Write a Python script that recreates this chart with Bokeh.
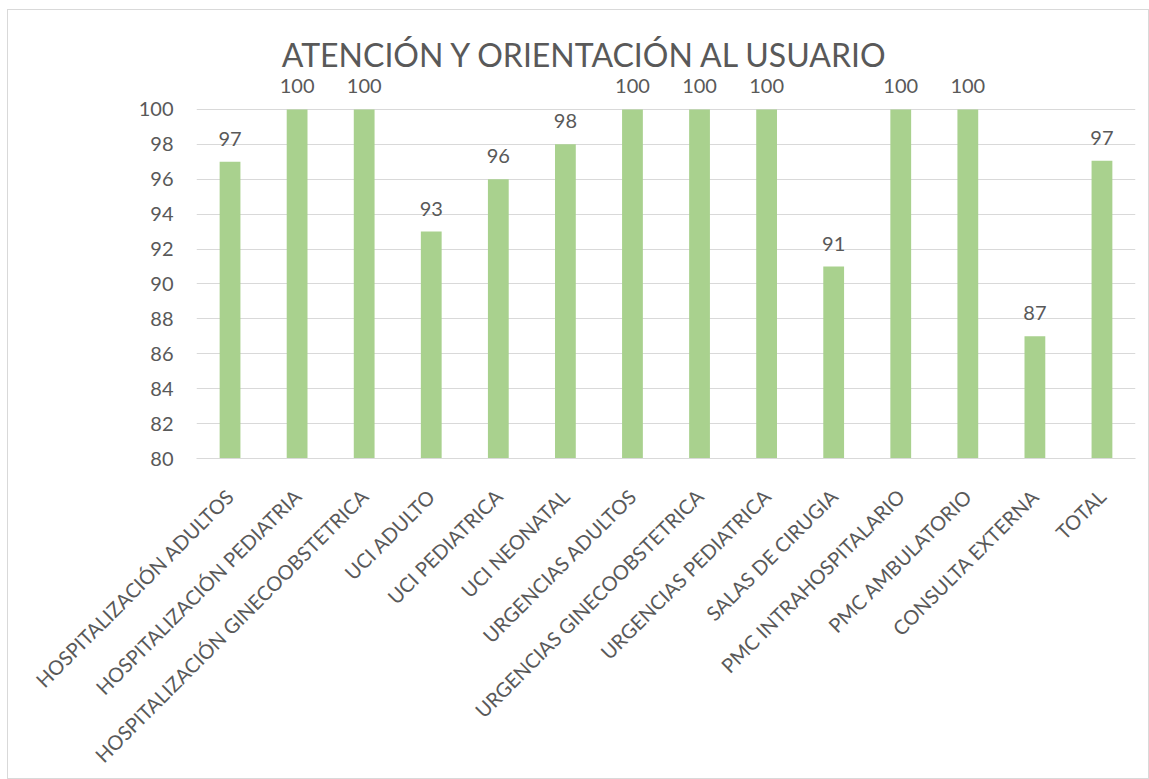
import math
from bokeh.plotting import figure
from bokeh.models import ColumnDataSource, FactorRange, Range1d, FixedTicker
from bokeh.core.properties import value
from bokeh.embed import file_html
from bokeh.resources import INLINE

categories = [
    "HOSPITALIZACIÓN ADULTOS",
    "HOSPITALIZACIÓN PEDIATRIA",
    "HOSPITALIZACIÓN GINECOOBSTETRICA",
    "UCI ADULTO",
    "UCI PEDIATRICA",
    "UCI NEONATAL",
    "URGENCIAS ADULTOS",
    "URGENCIAS GINECOOBSTETRICA",
    "URGENCIAS PEDIATRICA",
    "SALAS DE CIRUGIA",
    "PMC INTRAHOSPITALARIO",
    "PMC AMBULATORIO",
    "CONSULTA EXTERNA",
    "TOTAL",
]
values = [97, 100, 100, 93, 96, 98, 100, 100, 100, 91, 100, 100, 87, 97.06]
labels = ["%.0f" % v for v in values]
y_ticks = list(range(80, 101, 2))
title_text = "ATENCIÓN Y ORIENTACIÓN AL USUARIO"

FONT = "Lato"
TXT = "#595959"
Y_TOP = 105.67  # frame extends above 100 so the title and data labels sit inside it

src = ColumnDataSource(dict(cat=categories, val=values, lab=labels))

p = figure(
    x_range=FactorRange(*categories),
    y_range=Range1d(80, Y_TOP),
    width=1140, height=768,
    output_backend="svg", toolbar_location=None,
    min_border_left=188, min_border_right=13,
    min_border_top=0, min_border_bottom=320,
)
p.margin = (10, 0, 0, 8)
p.styles = {"outline": "1px solid #d9d9d9"}
p.outline_line_color = None
p.background_fill_color = "white"
p.border_fill_color = "white"

p.vbar(x="cat", top="val", bottom=80, width=0.31, source=src,
       fill_color="#A9D18E", line_color=None)

p.text(x="cat", y="val", text="lab", source=src,
       text_font=value(FONT), text_font_size="20px", text_color=TXT,
       text_align="center", text_baseline="alphabetic", y_offset=-23)

# chart title, centred on the whole chart (midpoint between 6th and 7th factor, nudged left)
p.text(x=[6.0], y=[Y_TOP], text=[title_text],
       text_font=value(FONT), text_font_size="32px", text_color=TXT,
       text_align="center", text_baseline="middle", x_offset=-13, y_offset=44)

# axes
p.xaxis.major_label_orientation = math.pi / 4
p.xaxis.major_label_text_font = FONT
p.xaxis.major_label_text_font_size = "20px"
p.xaxis.major_label_text_color = TXT
p.xaxis.axis_line_color = "#d9d9d9"
p.xaxis.axis_line_width = 1
p.xaxis.major_tick_line_color = None
p.xaxis.minor_tick_line_color = None
p.xaxis.major_label_standoff = 28

p.yaxis.ticker = FixedTicker(ticks=y_ticks)
p.yaxis.major_label_text_font = FONT
p.yaxis.major_label_text_font_size = "20px"
p.yaxis.major_label_text_color = TXT
p.yaxis.axis_line_color = None
p.yaxis.major_tick_line_color = None
p.yaxis.minor_tick_line_color = None
p.yaxis.major_label_standoff = 17

p.xgrid.grid_line_color = None
p.ygrid.grid_line_color = "#d9d9d9"
p.ygrid.grid_line_width = 1
p.ygrid.ticker = FixedTicker(ticks=y_ticks)

open("out.html", "w").write(file_html(p, INLINE))
